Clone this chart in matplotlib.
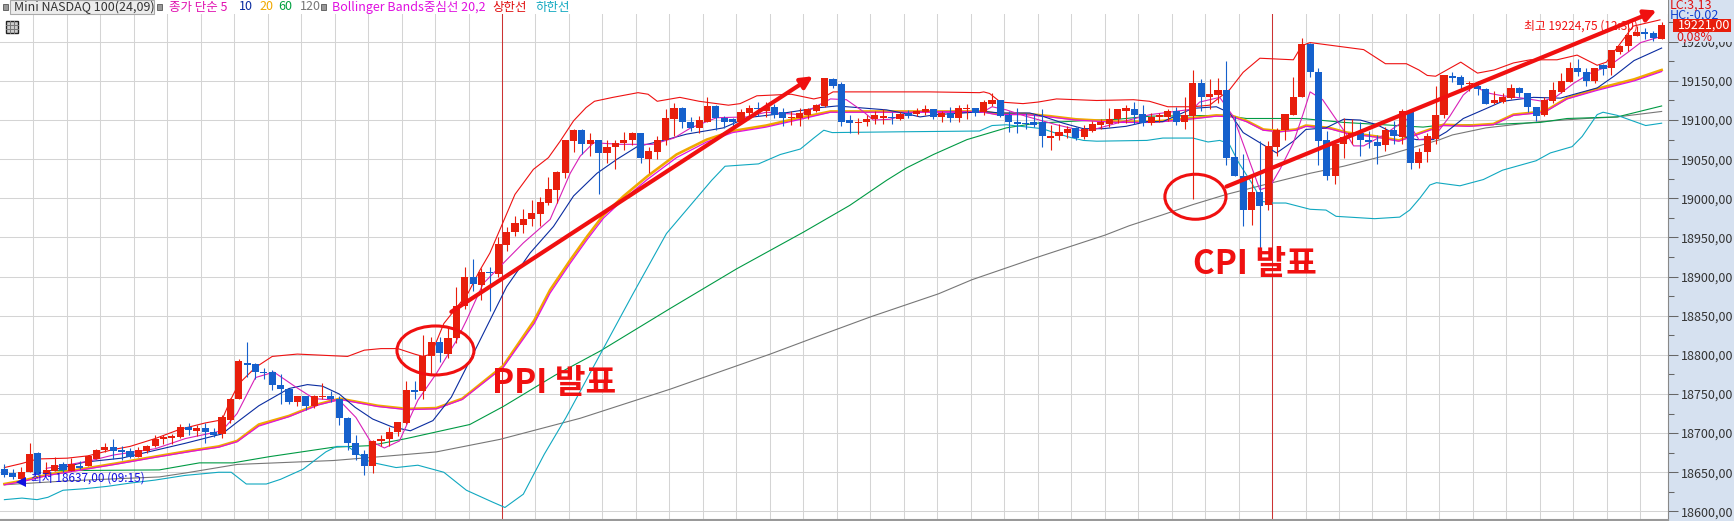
import matplotlib
matplotlib.use('Agg')
import matplotlib.pyplot as plt
from matplotlib.lines import Line2D
import numpy as np
from matplotlib.patches import Ellipse, Rectangle

plt.rcParams['font.family'] = ['Noto Sans CJK KR', 'DejaVu Sans']

# candles, oldest first
opens = [18654, 18649, 18642, 18650, 18675, 18648, 18651, 18661, 18652, 18658,
         18658, 18667, 18678, 18682, 18679, 18677, 18670, 18677, 18683, 18693,
         18694, 18695, 18708, 18703, 18707, 18702, 18699, 18717, 18743, 18790,
         18788, 18778, 18778, 18762, 18757, 18740, 18747, 18735, 18746, 18748,
         18744, 18719, 18688, 18673, 18658, 18690, 18693, 18701, 18713, 18755,
         18754, 18798, 18816, 18801, 18822, 18862, 18899, 18889, 18906, 18903,
         18941, 18957, 18966, 18973, 18980, 18994, 19011, 19032, 19073, 19087,
         19069, 19074, 19058, 19065, 19071, 19074, 19083, 19050, 19059, 19075,
         19101, 19116, 19098, 19090, 19098, 19118, 19103, 19101, 19097, 19109,
         19116, 19112, 19117, 19110, 19102, 19103, 19107, 19111, 19118, 19152,
         19146, 19100, 19096, 19098, 19101, 19103, 19104, 19101, 19109, 19108,
         19110, 19114, 19104, 19109, 19102, 19114, 19115, 19110, 19121, 19125,
         19106, 19098, 19096, 19097, 19098, 19077, 19080, 19083, 19090, 19078,
         19086, 19094, 19095, 19101, 19111, 19114, 19108, 19096, 19104, 19104,
         19111, 19098, 19105, 19147, 19129, 19132, 19138, 19053, 19029, 18985,
         19008, 18992, 19066, 19087, 19106, 19129, 19197, 19162, 19074, 19028,
         19070, 19079, 19084, 19074, 19072, 19068, 19087, 19078, 19110, 19045,
         19059, 19076, 19106, 19156, 19155, 19146, 19143, 19140, 19122, 19123,
         19128, 19141, 19134, 19117, 19106, 19124, 19136, 19149, 19166, 19162,
         19150, 19170, 19166, 19187, 19194, 19208, 19212, 19211, 19204]
closes = [18647, 18644, 18650, 18673, 18648, 18653, 18659, 18653, 18661, 18656,
          18671, 18678, 18682, 18677, 18676, 18670, 18679, 18684, 18693, 18695,
          18696, 18708, 18704, 18707, 18702, 18698, 18720, 18744, 18792, 18787,
          18778, 18777, 18761, 18756, 18740, 18747, 18735, 18748, 18748, 18743,
          18719, 18688, 18672, 18658, 18690, 18693, 18701, 18714, 18755, 18753,
          18798, 18816, 18803, 18822, 18862, 18900, 18890, 18906, 18904, 18942,
          18957, 18968, 18974, 18981, 18995, 19012, 19033, 19074, 19087, 19069,
          19075, 19058, 19066, 19071, 19074, 19083, 19051, 19061, 19075, 19102,
          19116, 19098, 19090, 19100, 19118, 19103, 19098, 19097, 19110, 19116,
          19114, 19117, 19107, 19102, 19104, 19109, 19114, 19119, 19154, 19144,
          19098, 19096, 19098, 19101, 19106, 19105, 19102, 19108, 19105, 19112,
          19114, 19104, 19109, 19102, 19115, 19116, 19109, 19123, 19126, 19105,
          19097, 19095, 19095, 19094, 19079, 19080, 19085, 19088, 19077, 19089,
          19095, 19098, 19101, 19114, 19115, 19107, 19096, 19104, 19107, 19111,
          19098, 19106, 19147, 19129, 19133, 19138, 19052, 19029, 18985, 19008,
          18990, 19067, 19087, 19108, 19130, 19197, 19161, 19073, 19028, 19070,
          19078, 19084, 19074, 19072, 19067, 19087, 19079, 19111, 19045, 19059,
          19079, 19107, 19157, 19154, 19145, 19147, 19140, 19121, 19125, 19130,
          19141, 19134, 19117, 19105, 19126, 19139, 19150, 19166, 19161, 19150,
          19167, 19165, 19189, 19195, 19209, 19213, 19210, 19205, 19221]
highs = [18660, 18654, 18657, 18688, 18676, 18663, 18670, 18663, 18668, 18664,
         18672, 18680, 18688, 18692, 18683, 18681, 18682, 18685, 18698, 18697,
         18699, 18712, 18713, 18710, 18713, 18707, 18723, 18745, 18795, 18817,
         18789, 18783, 18781, 18776, 18757, 18748, 18748, 18749, 18764, 18754,
         18747, 18720, 18697, 18678, 18691, 18697, 18708, 18714, 18766, 18766,
         18825, 18823, 18823, 18835, 18887, 18912, 18922, 18911, 18912, 18951,
         18963, 18978, 18987, 18998, 19002, 19027, 19035, 19075, 19088, 19088,
         19084, 19075, 19075, 19075, 19085, 19085, 19084, 19066, 19079, 19114,
         19122, 19117, 19104, 19105, 19129, 19119, 19105, 19103, 19114, 19119,
         19123, 19123, 19120, 19115, 19112, 19116, 19116, 19121, 19154, 19154,
         19148, 19107, 19102, 19107, 19112, 19114, 19110, 19110, 19113, 19116,
         19119, 19114, 19112, 19117, 19119, 19121, 19116, 19126, 19134, 19125,
         19111, 19116, 19109, 19108, 19114, 19094, 19095, 19093, 19091, 19094,
         19099, 19101, 19115, 19114, 19119, 19123, 19119, 19109, 19109, 19114,
         19117, 19129, 19164, 19152, 19152, 19154, 19176, 19105, 19056, 19028,
         19073, 19073, 19090, 19108, 19155, 19205, 19199, 19166, 19086, 19075,
         19103, 19101, 19097, 19086, 19081, 19091, 19099, 19114, 19114, 19064,
         19084, 19143, 19157, 19161, 19157, 19150, 19150, 19141, 19137, 19134,
         19146, 19142, 19134, 19117, 19130, 19149, 19160, 19174, 19178, 19166,
         19167, 19172, 19190, 19196, 19218, 19220, 19218, 19214, 19225]
lows = [18644, 18641, 18637, 18650, 18647, 18648, 18651, 18650, 18652, 18654,
        18658, 18667, 18676, 18667, 18666, 18668, 18669, 18674, 18682, 18686,
        18686, 18694, 18697, 18696, 18688, 18695, 18694, 18713, 18743, 18772,
        18769, 18769, 18755, 18737, 18737, 18735, 18730, 18732, 18743, 18740,
        18711, 18678, 18666, 18647, 18649, 18684, 18684, 18696, 18712, 18743,
        18743, 18776, 18791, 18796, 18815, 18859, 18881, 18870, 18856, 18900,
        18933, 18952, 18956, 18965, 18965, 18992, 18994, 19026, 19059, 19056,
        19054, 19006, 19045, 19037, 19062, 19068, 19045, 19032, 19050, 19068,
        19080, 19090, 19086, 19083, 19097, 19087, 19090, 19092, 19095, 19105,
        19105, 19104, 19102, 19092, 19094, 19092, 19101, 19110, 19117, 19141,
        19092, 19084, 19082, 19093, 19095, 19095, 19095, 19100, 19102, 19105,
        19107, 19101, 19097, 19098, 19097, 19101, 19105, 19107, 19118, 19104,
        19085, 19083, 19088, 19091, 19066, 19062, 19074, 19077, 19074, 19076,
        19085, 19089, 19091, 19096, 19096, 19095, 19092, 19094, 19097, 19099,
        19094, 19089, 18999, 19111, 19114, 19122, 19043, 19029, 18965, 18966,
        18925, 18985, 19054, 19075, 19106, 19129, 19155, 19042, 19024, 19018,
        19051, 19069, 19054, 19064, 19044, 19060, 19070, 19069, 19038, 19039,
        19046, 19070, 19102, 19149, 19137, 19137, 19132, 19120, 19121, 19122,
        19127, 19129, 19110, 19099, 19105, 19122, 19134, 19149, 19156, 19144,
        19147, 19158, 19157, 19185, 19188, 19207, 19204, 19201, 19204]

ma5_x = [5, 10, 13, 18, 21.6, 26, 27.8, 30, 32.2, 34.8, 37, 40, 42, 43.7, 45.4, 47.2, 49.4, 51.6, 54, 55.2,
         57.2, 59.6, 62, 65.2, 67.6, 68.8, 70.4, 73.6, 77.5, 80, 82, 85.1, 88.7, 91, 95.1, 98.7, 100.6, 102.6,
         103.8, 105.8, 109, 117, 118, 119.7, 122, 125.7, 128.9, 130.5, 132.9, 136.9, 138.4, 142, 142.8, 145.2,
         146.8, 148.4, 150, 151.2, 152.4, 154, 155.2, 156, 157.5, 159.1, 160.4, 161.2, 162.4, 164.8, 167.5, 169,
         170.7, 172.7, 174.3, 175.5, 177.5, 179, 181.4, 183.8, 185.4, 187.5, 189.5, 191.7, 193.9, 195.5, 198]
ma5 = [18655, 18664, 18672, 18680, 18693, 18703, 18725, 18771, 18778, 18759, 18744, 18742, 18720, 18690, 18681, 18690, 18742, 18776, 18818, 18844,
       18891, 18917, 18943, 18973, 19032, 19054, 19071, 19069, 19069, 19077, 19090, 19103, 19104, 19110, 19107, 19127, 19126, 19111,
       19100, 19101, 19111, 19111, 19117, 19113, 19105, 19094, 19086, 19089, 19096, 19107, 19109, 19114, 19123, 19129,
       19105, 19058, 19011, 19015, 19037, 19071, 19109, 19136, 19126, 19101, 19081, 19067, 19067, 19081, 19101, 19075,
       19077, 19105, 19132, 19143, 19134, 19131, 19128, 19124, 19130, 19147, 19160, 19169, 19186, 19199, 19207]
ma10_x = [5.5, 9.6, 14, 18, 21.6, 26, 27.8, 30.4, 34, 36.2, 38, 40, 41.9, 44, 46.3, 48.5, 51.2, 53.4, 56, 58,
          60, 62.8, 65.6, 68, 70.8, 73.2, 75.6, 79.1, 81.5, 85.9, 88.7, 91.9, 97.5, 99.5, 105.4, 107.8, 109.4,
          111.4, 114.5, 117, 119, 122.5, 124, 126.5, 128.9, 131.3, 134, 136.5, 138.4, 142, 144.8, 146.4, 148, 150,
          152, 154, 155.5, 157.9, 160, 162, 164, 166.4, 168.7, 170.7, 172.3, 174.3, 177.1, 179, 182.7, 185.9,
          187.9, 190.3, 192.3, 194.7, 198]
ma10 = [18652, 18663, 18668, 18678, 18687, 18699, 18714, 18735, 18757, 18762, 18760, 18750, 18733, 18718, 18708, 18703, 18716, 18746, 18801, 18844,
        18887, 18930, 18964, 19003, 19032, 19050, 19066, 19075, 19082, 19090, 19103, 19107, 19116, 19118, 19113, 19108, 19104,
        19107, 19109, 19111, 19109, 19109, 19105, 19096, 19089, 19089, 19092, 19098, 19098, 19115, 19117, 19109, 19084, 19071,
        19058, 19073, 19088, 19090, 19101, 19100, 19094, 19081, 19075, 19075, 19085, 19102, 19115, 19124, 19129, 19128,
        19134, 19141, 19156, 19176, 19192]
ma20_x = [0, 2.1, 5.2, 9.2, 13.2, 18, 22.5, 25.6, 27.8, 30.4, 34, 37.5, 40.1, 44.6, 48.1, 51.6, 54.7, 59.6, 63.3,
          65.2, 67.6, 69.6, 71.6, 74, 76.8, 80.3, 83.9, 87, 91, 95.1, 98.7, 107, 117, 118.5, 122, 124.9, 128,
          133, 137, 138.4, 142.4, 144.8, 146.8, 148.4, 150.4, 152.4, 154.3, 155.5, 158.3, 160.4, 164, 166.6,
          170.3, 171.9, 175, 177.9, 180.3, 184, 186.7, 190.3, 194.7, 198]
ma20 = [18635, 18639, 18647, 18654, 18661, 18670, 18678, 18683, 18690, 18711, 18722, 18737, 18744, 18735, 18731, 18732, 18744, 18786, 18844,
        18883, 18921, 18951, 18979, 19003, 19028, 19056, 19075, 19086, 19093, 19103, 19111, 19111, 19111, 19108, 19108, 19105, 19101,
        19098, 19098, 19099, 19103, 19106, 19105, 19099, 19088, 19086, 19088, 19093, 19090, 19084, 19079, 19074,
        19088, 19094, 19093, 19095, 19107, 19111, 19128, 19140, 19152, 19164]
bb_mid = [18634, 18638, 18646, 18653, 18660, 18669, 18677, 18682, 18689, 18709, 18721, 18736, 18743, 18734, 18730, 18731, 18743, 18784, 18840,
          18879, 18917, 18947, 18975, 18999, 19024, 19052, 19072, 19084, 19091, 19101, 19110, 19110, 19110, 19107, 19107, 19104, 19100,
          19097, 19097, 19098, 19102, 19105, 19104, 19098, 19087, 19085, 19087, 19092, 19089, 19083, 19078, 19073,
          19087, 19093, 19092, 19094, 19106, 19110, 19127, 19138, 19150, 19162]
ma60_x = [6, 18.5, 23.3, 27.3, 31.7, 39.3, 43.7, 48, 55.6, 59.6, 65.8, 71.2, 79.5, 87.5, 95.5, 101, 105.4,
          107.8, 111, 115, 119.7, 123.3, 128.5, 133, 136.9, 145.6, 148.4, 155, 160, 169.5, 171.9, 177, 183.5, 186.7, 192.7, 198]
ma60 = [18652, 18653, 18662, 18662, 18670, 18682, 18684, 18693, 18711, 18734, 18774, 18805, 18859, 18910, 18957, 18991, 19023,
        19039, 19056, 19075, 19090, 19096, 19099, 19101, 19105, 19106, 19102, 19102, 19097, 19091, 19094, 19094, 19097, 19102, 19104, 19118]
ma120_x = [0, 7.5, 18.5, 21.6, 27.8, 39.3, 45, 51.6, 59.2, 68.8, 79.5, 87.5, 91.5, 97.5, 103.6, 111.6, 115.6, 123.5, 131.5,
           134.4, 138.4, 142, 146, 151.5, 156, 160, 165.5, 171.5, 173, 177, 183.5, 189, 192.7, 198]
ma120 = [18634, 18639, 18644, 18649, 18660, 18665, 18670, 18676, 18692, 18719, 18756, 18786, 18801, 18825, 18849, 18878, 18896, 18925, 18953,
         18965, 18979, 18992, 19005, 19020, 19032, 19041, 19056, 19075, 19081, 19090, 19098, 19102, 19104, 19111]
bb_up_x = [0, 2, 4, 7.5, 10, 13, 15, 18, 21, 24, 26, 27, 28, 30, 32, 35, 41, 43, 45, 47, 49, 50, 51, 52.5,
           55.4, 56.8, 58, 59.2, 61, 63.2, 65, 66.4, 68, 69.5, 70.5, 72.7, 75.7, 76.9, 78, 80.7, 83, 86.5, 87.9, 89.9,
           94, 96.7, 98, 99, 110.5, 116.5, 117, 117.7, 119, 121.7, 123.5, 125.7, 130.5, 134.9, 136.8, 139, 142, 144,
           146.4, 148, 150, 154, 155, 156, 162.4, 165, 167.5, 169, 170, 171, 174, 176, 178, 180.3, 182.3, 185.5, 187.9,
           190.3, 191.4, 194.6, 197.8]
bb_up = [18656, 18661, 18667, 18668, 18671, 18679, 18683, 18693, 18705, 18713, 18717, 18742, 18763, 18784, 18798, 18801, 18798, 18806, 18808, 18808, 18801, 18798, 18801, 18840,
         18879, 18908, 18930, 18960, 19005, 19037, 19052, 19073, 19099, 19116, 19124, 19129, 19135, 19133, 19124, 19129, 19124, 19119, 19121, 19131,
         19133, 19127, 19130, 19136, 19136, 19135, 19136, 19134, 19123, 19121, 19123, 19127, 19125, 19126, 19124, 19117, 19117, 19119,
         19139, 19161, 19179, 19177, 19195, 19199, 19190, 19172, 19172, 19164, 19157, 19156, 19174, 19160, 19164, 19173, 19177, 19177, 19183,
         19170, 19174, 19220, 19228]
bb_low_x = [0, 2.1, 3.9, 5.2, 7, 9.6, 12.3, 14.9, 18, 21.6, 25.6, 27.1, 28.9, 31.3, 33, 35.7, 38.4, 39.7, 41, 43.7, 46.8,
            49.4, 52.5, 55.2, 58.3, 59.8, 62, 64.5, 67.1, 71.2, 75.1, 79.1, 84.5, 86.1, 90.1, 92.7, 95.1, 96.7, 97.9, 98.9,
            107, 116.5, 118, 119.7, 124, 125.7, 127.3, 128.9, 130.5, 136.5, 138.4, 142, 143.8, 145.2, 146.3, 147.5, 149,
            150.3, 151.5, 153.1, 156, 157.9, 159.1, 163.7, 166.7, 167.9, 169.1, 170.3, 171.1, 173.9, 176.7, 179, 183, 184.7,
            187.3, 188.5, 190.3, 191, 192.7, 196.1, 198]
bb_low = [18615, 18617, 18615, 18618, 18627, 18629, 18632, 18636, 18640, 18646, 18650, 18650, 18635, 18635, 18641, 18654, 18676, 18683, 18683, 18663, 18656,
          18659, 18650, 18627, 18612, 18605, 18622, 18673, 18720, 18801, 18878, 18955, 19023, 19041, 19044, 19056, 19063, 19077, 19087, 19084,
          19085, 19086, 19093, 19094, 19089, 19083, 19078, 19074, 19073, 19074, 19077, 19077, 19072, 19074, 19070, 19045, 19020,
          18996, 18994, 18994, 18986, 18985, 18977, 18974, 18976, 18985, 19000, 19017, 19020, 19016, 19024, 19036, 19048, 19058,
          19066, 19079, 19107, 19110, 19106, 19093, 19096]

y_ticks = list(range(18600, 19201, 50))
event_idx = [59.45, 151.45]
header_items = [('종가 단순 5', 169, '#e010b0'), ('10', 239, '#0a2ca0'), ('20', 259, '#f0a800'), ('60', 278.5, '#00a040'),
                ('120', 300, '#777777'), ('Bollinger Bands중심선 20,2', 332, '#e010e0'), ('상한선', 492, '#e01010'),
                ('하한선', 535, '#10a8c0')]

RED = '#e81e0c'
BLUE = '#1560cc'
PANEL = '#d6e1f0'
W, H = 1734, 521

fig = plt.figure(figsize=(W / 100, H / 100), dpi=100, facecolor=PANEL)
ax = fig.add_axes([0, 1 / H, 1668 / W, 520 / H], facecolor='white')
ax.set_xlim(-0.526, 198.76)
ax.set_ylim(18589, 19253.4)

# grid + right price scale
ax.set_xticks(np.arange(3.45, 199, 4))
ax.set_xticklabels([])
ax.tick_params(axis='x', length=0)
ax.yaxis.tick_right()
ax.set_yticks(y_ticks)
ax.set_yticklabels([f'{v:.2f}'.replace('.', ',') for v in y_ticks], fontsize=9, color='#333333')
ax.tick_params(axis='y', length=7, width=0.75, color='#666666', pad=2)
ax.set_yticks(np.arange(18625, 19250, 50), minor=True)
ax.tick_params(axis='y', which='minor', length=4, width=0.75, color='#666666')
ax.grid(True, color='#d4d4d4', lw=0.75)
ax.set_axisbelow(True)
for side in ['top', 'left']:
    ax.spines[side].set_visible(False)
ax.spines['right'].set_color('#888888')
ax.spines['bottom'].set_color('#999999')
ax.spines['bottom'].set_linewidth(1.5)

for x in event_idx:
    ax.axvline(x, color='#cc3333', lw=0.75, zorder=1.5)

ax.plot(ma120_x, ma120, color='#777777', lw=0.8, zorder=2)
ax.plot(ma60_x, ma60, color='#009a44', lw=0.8, zorder=2)
ax.plot(bb_low_x, bb_low, color='#10a8c0', lw=0.8, zorder=2)
ax.plot(bb_up_x, bb_up, color='#ee1111', lw=0.8, zorder=2)
ax.plot(ma20_x, ma20, color='#f0a800', lw=1.9, zorder=2)
ax.plot(ma20_x, bb_mid, color='#e010e0', lw=0.9, zorder=2.1)
ax.plot(ma10_x, ma10, color='#0a2ca0', lw=0.8, zorder=2.2)
ax.plot(ma5_x, ma5, color='#d820b8', lw=0.8, zorder=2.2)

idx = np.arange(len(opens))
colors = [RED if c >= o else BLUE for o, c in zip(opens, closes)]
ax.vlines(idx, lows, highs, colors=colors, lw=0.8, zorder=3)
body = [max(abs(c - o), 1.5) for o, c in zip(opens, closes)]
ax.bar(idx, body, bottom=np.minimum(opens, closes), width=0.85, color=colors, lw=0, zorder=3)

# hand drawn marks
ax.annotate('', xy=(96.6, 19156), xytext=(53.4, 18855), zorder=6,
            arrowprops=dict(arrowstyle='-|>,head_length=0.7,head_width=0.35', color='#f01010', lw=3, shrinkA=0, shrinkB=0))
ax.annotate('', xy=(197.4, 19240), xytext=(146, 19015), zorder=6,
            arrowprops=dict(arrowstyle='-|>,head_length=0.7,head_width=0.35', color='#f01010', lw=3, shrinkA=0, shrinkB=0))
ax.add_patch(Ellipse((51.5, 18805.6), 9.2, 62.6, fill=False, ec='#f01010', lw=2.2, zorder=6))
ax.add_patch(Ellipse((142.3, 19002), 7.3, 57.5, fill=False, ec='#f01010', lw=2.2, zorder=6))
ax.text(58.3, 18764, 'PPI 발표', color='#f01010', fontsize=24, fontweight='bold', va='center', zorder=7)
ax.text(142, 18916, 'CPI 발표', color='#f01010', fontsize=24, fontweight='bold', va='center', zorder=7)

ax.text(1638 / 1668, 1 - 26 / 520, '최고 19224,75 (12:30)', color='#f01010', fontsize=8.5, ha='right', va='center',
        transform=ax.transAxes, zorder=5)
ax.text(31 / 1668, 1 - 478 / 520, '최저 18637,00 (09:15)', color='#1010e0', fontsize=8.5, va='center',
        transform=ax.transAxes, zorder=5)
ax.plot([2.0], [18637], marker='<', ms=7, color='#1010e0', mew=0, zorder=5)

# header strip
ax.add_patch(Rectangle((0, 1 - 13.5 / 520), 1, 13.5 / 520, transform=ax.transAxes, fc='white', ec='none', zorder=4))
fig.patches.append(Rectangle((10 / W, 1 - 14 / H), 144 / W, 14 / H, transform=fig.transFigure, fc='#ececec', ec='#aaaaaa', lw=0.8))
for sx in (3, 157, 321):
    fig.patches.append(Rectangle((sx / W, 1 - 10 / H), 5 / W, 6 / H, transform=fig.transFigure, fc='#999999', ec='#555555', lw=0.6))
fig.patches.append(Rectangle((5.5 / W, 1 - 33 / H), 12 / W, 12 / H, transform=fig.transFigure, fc='#cccccc', ec='#222222', lw=1))
for k in (4, 8):
    fig.add_artist(Line2D([(5.5 + k) / W] * 2, [1 - 33 / H, 1 - 21 / H], color='#777777', lw=0.7))
    fig.add_artist(Line2D([5.5 / W, 17.5 / W], [1 - (21 + k) / H] * 2, color='#777777', lw=0.7))
fig.text(14 / W, 1 - 7 / H, 'Mini NASDAQ 100(24,09)', fontsize=9, color='#333333', va='center')
for label, x, color in header_items:
    fig.text(x / W, 1 - 7 / H, label, fontsize=9, color=color, va='center')

# right panel readouts
fig.text(1670 / W, 1 - 5 / H, 'LC:3,13', fontsize=9, color='#e01010', va='center')
fig.text(1670 / W, 1 - 15.5 / H, 'HC:-0,02', fontsize=9, color='#1040d0', va='center')
fig.patches.append(Rectangle((1670 / W, 1 - 42 / H), 63 / W, 10 / H, transform=fig.transFigure, fc=PANEL, ec='none', zorder=5))
fig.patches.append(Rectangle((1673 / W, 1 - 32 / H), 58 / W, 13 / H, transform=fig.transFigure, fc='#e81e0c', ec='none', zorder=5))
fig.text(1678 / W, 1 - 25.5 / H, '19221,00', fontsize=9, color='white', va='center', zorder=6)
fig.text(1676 / W, 1 - 37 / H, '0,08%', fontsize=9, color='#e01010', va='center', zorder=6)

fig.savefig('out.png', dpi=100)
